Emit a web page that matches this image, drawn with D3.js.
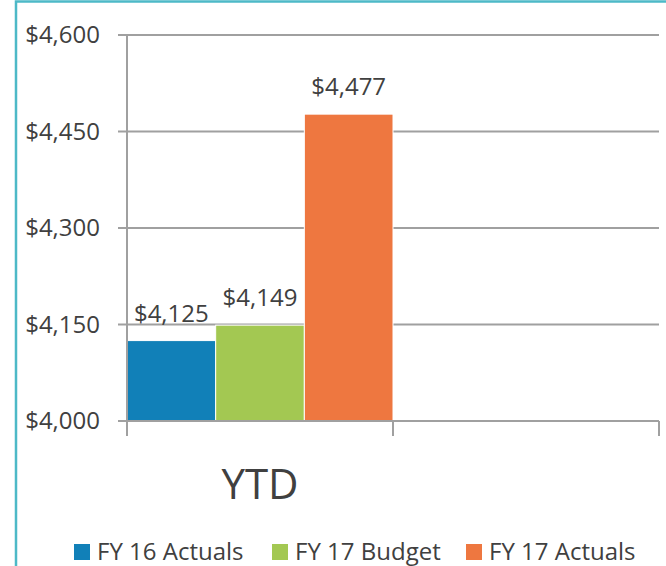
<!DOCTYPE html>
<html>
<head>
<meta charset="utf-8">
<script src="https://cdn.jsdelivr.net/npm/d3@7"></script>
<style>
  body { margin: 0; background: #fff; }
  text { font-family: "Open Sans", "Noto Sans", sans-serif; fill: #404040; }
</style>
</head>
<body>
<script>
var categories = ["YTD", ""];
var seriesNames = ["FY 16 Actuals", "FY 17 Budget", "FY 17 Actuals"];
var seriesValues = [4125, 4149, 4477];
var seriesColors = ["#1180b8", "#a3c852", "#ee7740"];
var yTicks = [4000, 4150, 4300, 4450, 4600];

var width = 666, height = 566;

var svg = d3.select("body").append("svg")
    .attr("width", width)
    .attr("height", height);

// frame
svg.append("path")
    .attr("d", "M16,566 V1.5 H666")
    .style("fill", "none")
    .style("stroke", "#4db9c7")
    .style("stroke-width", 2.5);

var x = d3.scaleBand().domain(categories).range([127, 659]).padding(0);
var xInner = d3.scaleBand().domain(seriesNames).range([0, x.bandwidth()]).padding(0);
var y = d3.scaleLinear().domain([4000, 4600]).range([421, 35]);

var fmt = function (d) { return "$" + d3.format(",")(d); };

// gridlines
svg.append("g").selectAll("line")
    .data(yTicks)
    .enter().append("line")
    .attr("x1", 118).attr("x2", 659)
    .attr("y1", function (d) { return y(d); })
    .attr("y2", function (d) { return y(d); })
    .style("stroke", "#a0a0a0")
    .style("stroke-width", 2);

// y labels
svg.append("g").selectAll("text")
    .data(yTicks)
    .enter().append("text")
    .attr("x", 100)
    .attr("y", function (d) { return y(d) + 8; })
    .attr("text-anchor", "end")
    .style("font-size", "24px")
    .text(fmt);

// bars
var bars = svg.append("g");
bars.selectAll("rect")
    .data(seriesValues)
    .enter().append("rect")
    .attr("x", function (d, i) { return x("YTD") + xInner(seriesNames[i]); })
    .attr("y", function (d) { return y(d); })
    .attr("width", xInner.bandwidth())
    .attr("height", function (d) { return y(4000) - y(d); })
    .style("fill", function (d, i) { return seriesColors[i]; })
    .style("stroke", "#fff")
    .style("stroke-width", 1);

bars.selectAll("text")
    .data(seriesValues)
    .enter().append("text")
    .attr("x", function (d, i) { return x("YTD") + xInner(seriesNames[i]) + xInner.bandwidth() / 2; })
    .attr("y", function (d) { return y(d) - 19; })
    .attr("text-anchor", "middle")
    .style("font-size", "24px")
    .text(fmt);

// axes lines
svg.append("line")
    .attr("x1", 127).attr("x2", 127).attr("y1", 35).attr("y2", 436)
    .style("stroke", "#a0a0a0").style("stroke-width", 2);
svg.append("line")
    .attr("x1", 118).attr("x2", 659).attr("y1", 421).attr("y2", 421)
    .style("stroke", "#a0a0a0").style("stroke-width", 2);
svg.append("g").selectAll("line")
    .data(categories.concat(["end"]))
    .enter().append("line")
    .attr("x1", function (d, i) { return 127 + i * x.bandwidth(); })
    .attr("x2", function (d, i) { return 127 + i * x.bandwidth(); })
    .attr("y1", 421).attr("y2", 436)
    .style("stroke", "#a0a0a0").style("stroke-width", 2);

// category label
svg.append("text")
    .attr("x", x("YTD") + x.bandwidth() / 2)
    .attr("y", 499)
    .attr("text-anchor", "middle")
    .style("font-size", "42px")
    .text("YTD");

// legend
var legendX = [74, 272, 466];
var legend = svg.append("g").selectAll("g")
    .data(seriesNames)
    .enter().append("g")
    .attr("transform", function (d, i) { return "translate(" + legendX[i] + ",544)"; });
legend.append("rect")
    .attr("width", 16).attr("height", 16)
    .style("fill", function (d, i) { return seriesColors[i]; });
legend.append("text")
    .attr("x", 23).attr("y", 16)
    .style("font-size", "24px")
    .text(function (d) { return d; });
</script>
</body>
</html>
